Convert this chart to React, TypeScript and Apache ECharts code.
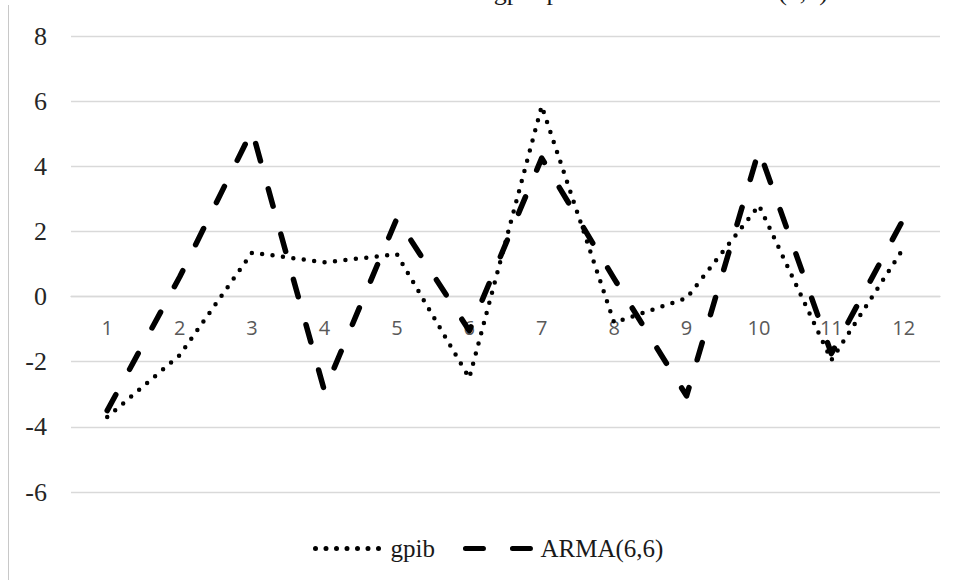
import React, { useEffect, useRef } from "react";
import * as echarts from "echarts";

// Forecast horizon (periods 1–12)
const periods = ["1", "2", "3", "4", "5", "6", "7", "8", "9", "10", "11", "12"];

// Observed gpib growth
const gpib = [-3.7, -1.8, 1.35, 1.05, 1.3, -2.5, 5.85, -0.8, -0.05, 2.8, -1.95, 1.5];

// ARMA(6,6) forecasts
const arma = [-3.5, 0.6, 5.1, -2.9, 2.4, -1.05, 4.25, 0.55, -3.05, 4.5, -1.75, 2.4];

const yTicks = { min: -6, max: 8, step: 2 };

const titleText = "Gráfico 6: Previsões do gpib para o modelo ARMA(6,6)";

const GRID_TOP = 36;
const GRID_BOTTOM = 88;
const CHART_H = 580;

export default function App() {
  const ref = useRef<HTMLDivElement>(null);

  useEffect(() => {
    if (!ref.current) return;
    const chart = echarts.init(ref.current, undefined, { renderer: "svg" });

    // Lift the category axis from the bottom of the grid up to the zero line
    const plotH = CHART_H - GRID_TOP - GRID_BOTTOM;
    const zeroOffset = -(plotH * (0 - yTicks.min)) / (yTicks.max - yTicks.min);

    chart.setOption({
      animation: false,
      backgroundColor: "#ffffff",
      textStyle: { fontFamily: "Liberation Serif" },
      grid: { left: 71, right: 16, top: GRID_TOP, bottom: GRID_BOTTOM, containLabel: false },
      xAxis: {
        type: "category",
        data: periods,
        boundaryGap: true,
        offset: zeroOffset,
        axisLine: { show: true, onZero: false, lineStyle: { color: "#d9d9d9", width: 1.3 } },
        axisTick: { show: false },
        axisLabel: {
          margin: 21,
          color: "#595959",
          fontFamily: "Open Sans",
          fontSize: 20,
        },
        splitLine: { show: false },
      },
      yAxis: [
        {
          type: "value",
          position: "left",
          min: yTicks.min,
          max: yTicks.max,
          interval: yTicks.step,
          axisLine: { show: false },
          axisTick: { show: false },
          axisLabel: {
            show: true,
            margin: 24,
            color: "#262626",
            fontFamily: "Liberation Serif",
            fontSize: 26,
            fontStyle: "normal",
            fontWeight: "normal",
          },
          splitLine: { show: true, lineStyle: { color: "#d9d9d9", width: 1.3 } },
        },
      ],
      legend: {
        left: 308,
        top: 531,
        itemWidth: 70,
        itemHeight: 14,
        itemGap: 28,
        itemStyle: { color: "rgba(0,0,0,0)", borderWidth: 0, opacity: 0 },
        lineStyle: { width: 5 },
        textStyle: {
          color: "#1a1a1a",
          fontFamily: "Liberation Serif",
          fontSize: 25,
        },
        data: ["gpib", "ARMA(6,6)"],
      },
      graphic: [
        {
          type: "line",
          shape: { x1: 8.5, y1: 5, x2: 8.5, y2: 580 },
          style: { stroke: "#c8c8c8", lineWidth: 1 },
          silent: true,
        },
        {
          type: "text",
          x: 828,
          y: 4,
          style: {
            text: titleText,
            textAlign: "right",
            textVerticalAlign: "bottom",
            font: "26px 'Liberation Serif', serif",
            fill: "#1a1a1a",
          },
          silent: true,
        },
      ],
      series: [
        {
          name: "gpib",
          type: "line",
          data: gpib,
          symbol: "none",
          lineStyle: { color: "#000000", width: 4.5, type: [0, 10.5], cap: "round", join: "round" },
          z: 3,
        },
        {
          name: "ARMA(6,6)",
          type: "line",
          data: arma,
          symbol: "none",
          lineStyle: { color: "#000000", width: 5.5, type: [18, 29], cap: "round", join: "round" },
          z: 2,
        },
      ],
    });

    return () => chart.dispose();
  }, []);

  return <div ref={ref} style={{ width: 956, height: 580, position: "absolute", left: 0, top: 0 }} />;
}
